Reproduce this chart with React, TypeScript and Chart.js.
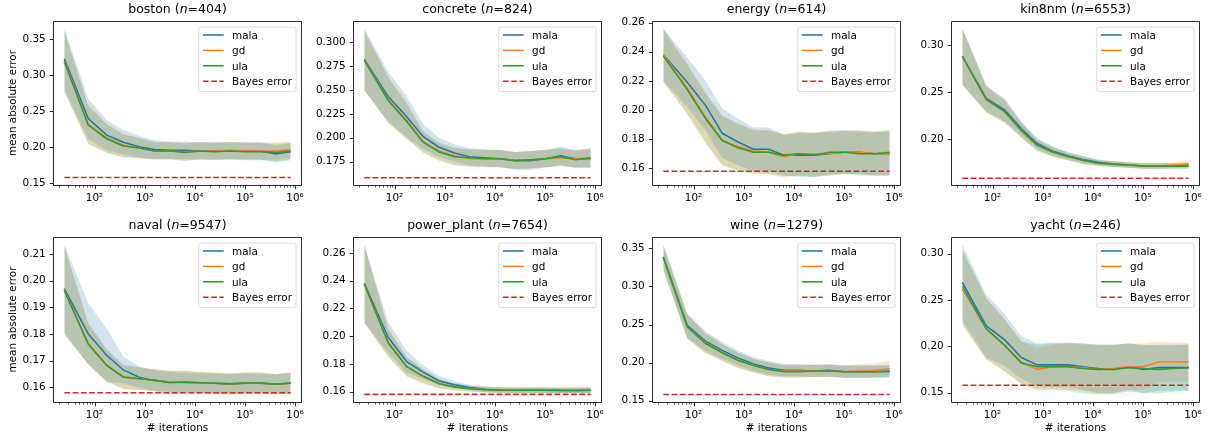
import React, { useEffect, useRef } from 'react';
import { Chart, registerables } from 'chart.js';

Chart.register(...registerables);

// ---------------- data ----------------
const iterations = [25, 75, 175, 375, 775, 1575, 3175, 6375, 12775, 25575, 51175, 102375, 204775, 409575, 819175];
const bayesError = 0.158;
const xTickValues = [1e2, 1e3, 1e4, 1e5, 1e6];
const xTickLabels = ['10²', '10³', '10⁴', '10⁵', '10⁶'];
const methodNames = ['mala', 'gd', 'ula'];
const bayesLabel = 'Bayes error';
const xAxisTitle = '# iterations';
const yAxisTitle = 'mean absolute error';

const bostonMala = [0.323, 0.240, 0.217, 0.207, 0.201, 0.197, 0.196, 0.196, 0.195, 0.195, 0.195, 0.195, 0.195, 0.191, 0.194];
const bostonGd = [0.320, 0.232, 0.213, 0.203, 0.199, 0.195, 0.195, 0.194, 0.195, 0.195, 0.196, 0.195, 0.195, 0.195, 0.197];
const bostonUla = [0.319, 0.231, 0.212, 0.202, 0.199, 0.195, 0.195, 0.193, 0.195, 0.194, 0.195, 0.194, 0.194, 0.193, 0.195];
const bostonMalaSd = [0.043, 0.028, 0.021, 0.017, 0.015, 0.013, 0.012, 0.012, 0.012, 0.012, 0.012, 0.012, 0.012, 0.012, 0.012];
const bostonGdSd = [0.042, 0.027, 0.020, 0.016, 0.014, 0.012, 0.012, 0.012, 0.012, 0.012, 0.012, 0.012, 0.012, 0.012, 0.011];
const bostonUlaSd = [0.042, 0.026, 0.020, 0.016, 0.014, 0.012, 0.012, 0.012, 0.012, 0.012, 0.012, 0.012, 0.012, 0.012, 0.011];
const bostonYRange = [0.1477, 0.3756];
const bostonYTicks = ['0.15', '0.20', '0.25', '0.30', '0.35'];

const concreteMala = [0.282, 0.243, 0.222, 0.201, 0.190, 0.184, 0.180, 0.179, 0.178, 0.176, 0.176, 0.178, 0.181, 0.178, 0.178];
const concreteGd = [0.281, 0.240, 0.218, 0.196, 0.186, 0.181, 0.178, 0.178, 0.178, 0.176, 0.177, 0.178, 0.179, 0.178, 0.179];
const concreteUla = [0.281, 0.239, 0.217, 0.195, 0.185, 0.180, 0.179, 0.178, 0.178, 0.176, 0.177, 0.178, 0.180, 0.177, 0.179];
const concreteMalaSd = [0.032, 0.026, 0.021, 0.013, 0.010, 0.009, 0.009, 0.009, 0.009, 0.009, 0.010, 0.009, 0.010, 0.009, 0.010];
const concreteGdSd = [0.031, 0.024, 0.019, 0.011, 0.009, 0.009, 0.009, 0.009, 0.009, 0.009, 0.009, 0.009, 0.009, 0.009, 0.010];
const concreteUlaSd = [0.031, 0.024, 0.018, 0.011, 0.009, 0.009, 0.009, 0.009, 0.009, 0.009, 0.009, 0.009, 0.009, 0.009, 0.010];
const concreteYRange = [0.1505, 0.3221];
const concreteYTicks = ['0.175', '0.200', '0.225', '0.250', '0.275', '0.300'];

const energyMala = [0.238, 0.219, 0.203, 0.184, 0.178, 0.173, 0.173, 0.169, 0.169, 0.169, 0.170, 0.171, 0.171, 0.170, 0.170];
const energyGd = [0.238, 0.215, 0.195, 0.179, 0.175, 0.172, 0.171, 0.168, 0.170, 0.170, 0.170, 0.171, 0.171, 0.170, 0.170];
const energyUla = [0.237, 0.214, 0.194, 0.179, 0.174, 0.171, 0.171, 0.169, 0.170, 0.169, 0.171, 0.171, 0.170, 0.170, 0.171];
const energyMalaSd = [0.018, 0.017, 0.017, 0.017, 0.016, 0.015, 0.015, 0.014, 0.015, 0.015, 0.015, 0.015, 0.015, 0.015, 0.015];
const energyGdSd = [0.018, 0.017, 0.017, 0.017, 0.016, 0.015, 0.015, 0.0145, 0.015, 0.015, 0.015, 0.015, 0.015, 0.015, 0.0155];
const energyUlaSd = [0.018, 0.017, 0.017, 0.017, 0.016, 0.015, 0.015, 0.0145, 0.015, 0.015, 0.015, 0.015, 0.015, 0.015, 0.0155];
const energyYRange = [0.1485, 0.2611];
const energyYTicks = ['0.16', '0.18', '0.20', '0.22', '0.24', '0.26'];

const kin8nmMala = [0.288, 0.243, 0.231, 0.211, 0.195, 0.187, 0.182, 0.178, 0.175, 0.173, 0.172, 0.171, 0.171, 0.171, 0.171];
const kin8nmGd = [0.288, 0.242, 0.229, 0.209, 0.193, 0.186, 0.181, 0.177, 0.174, 0.173, 0.172, 0.171, 0.171, 0.172, 0.173];
const kin8nmUla = [0.288, 0.242, 0.229, 0.209, 0.193, 0.186, 0.181, 0.177, 0.174, 0.173, 0.172, 0.171, 0.171, 0.171, 0.171];
const kin8nmMalaSd = [0.030, 0.014, 0.012, 0.008, 0.006, 0.005, 0.004, 0.004, 0.003, 0.003, 0.003, 0.003, 0.003, 0.003, 0.003];
const kin8nmGdSd = [0.030, 0.014, 0.012, 0.008, 0.006, 0.005, 0.004, 0.004, 0.003, 0.003, 0.003, 0.003, 0.003, 0.003, 0.003];
const kin8nmUlaSd = [0.030, 0.014, 0.012, 0.008, 0.006, 0.005, 0.004, 0.004, 0.003, 0.003, 0.003, 0.003, 0.003, 0.003, 0.003];
const kin8nmYRange = [0.1507, 0.3257];
const kin8nmYTicks = ['0.20', '0.25', '0.30'];

const navalMala = [0.1970, 0.1800, 0.1720, 0.1665, 0.1638, 0.1625, 0.1620, 0.1618, 0.1617, 0.1615, 0.1613, 0.1615, 0.1615, 0.1612, 0.1615];
const navalGd = [0.1965, 0.1765, 0.1683, 0.1640, 0.1633, 0.1626, 0.1620, 0.1619, 0.1617, 0.1615, 0.1613, 0.1615, 0.1615, 0.1612, 0.1615];
const navalUla = [0.1962, 0.1762, 0.1682, 0.1638, 0.1632, 0.1627, 0.1617, 0.1620, 0.1617, 0.1615, 0.1613, 0.1616, 0.1616, 0.1612, 0.1616];
const navalMalaSd = [0.0165, 0.0115, 0.0100, 0.0050, 0.0040, 0.0038, 0.0037, 0.0036, 0.0036, 0.0036, 0.0036, 0.0036, 0.0036, 0.0036, 0.0040];
const navalGdSd = [0.0165, 0.0078, 0.0060, 0.0045, 0.0042, 0.0042, 0.0044, 0.0042, 0.0040, 0.0040, 0.0040, 0.0040, 0.0040, 0.0038, 0.0040];
const navalUlaSd = [0.0165, 0.0076, 0.0060, 0.0045, 0.0042, 0.0042, 0.0044, 0.0042, 0.0040, 0.0040, 0.0040, 0.0040, 0.0040, 0.0038, 0.0040];
const navalYRange = [0.1545, 0.2163];
const navalYTicks = ['0.16', '0.17', '0.18', '0.19', '0.20', '0.21'];

const powerMala = [0.2380, 0.1990, 0.1815, 0.1740, 0.1677, 0.1650, 0.1630, 0.1617, 0.1612, 0.1610, 0.1610, 0.1610, 0.1608, 0.1608, 0.1610];
const powerGd = [0.2375, 0.1955, 0.1780, 0.1710, 0.1658, 0.1634, 0.1622, 0.1614, 0.1612, 0.1610, 0.1610, 0.1610, 0.1608, 0.1610, 0.1610];
const powerUla = [0.2375, 0.1950, 0.1780, 0.1710, 0.1657, 0.1634, 0.1621, 0.1614, 0.1612, 0.1610, 0.1612, 0.1610, 0.1610, 0.1608, 0.1610];
const powerMalaSd = [0.028, 0.011, 0.008, 0.005, 0.0035, 0.0025, 0.002, 0.002, 0.002, 0.002, 0.002, 0.002, 0.002, 0.002, 0.002];
const powerGdSd = [0.028, 0.010, 0.007, 0.005, 0.0035, 0.0025, 0.002, 0.002, 0.002, 0.002, 0.002, 0.002, 0.002, 0.002, 0.002];
const powerUlaSd = [0.028, 0.010, 0.007, 0.005, 0.0035, 0.0025, 0.002, 0.002, 0.002, 0.002, 0.002, 0.002, 0.002, 0.002, 0.002];
const powerYRange = [0.1525, 0.2714];
const powerYTicks = ['0.16', '0.18', '0.20', '0.22', '0.24', '0.26'];

const wineMala = [0.339, 0.249, 0.228, 0.216, 0.206, 0.198, 0.193, 0.190, 0.190, 0.189, 0.190, 0.188, 0.188, 0.188, 0.189];
const wineGd = [0.338, 0.247, 0.226, 0.213, 0.203, 0.196, 0.191, 0.189, 0.189, 0.189, 0.189, 0.188, 0.189, 0.190, 0.192];
const wineUla = [0.338, 0.247, 0.225, 0.213, 0.203, 0.196, 0.191, 0.188, 0.188, 0.189, 0.189, 0.188, 0.188, 0.188, 0.188];
const wineMalaSd = [0.016, 0.016, 0.013, 0.011, 0.010, 0.009, 0.009, 0.008, 0.008, 0.008, 0.008, 0.008, 0.008, 0.008, 0.008];
const wineGdSd = [0.016, 0.015, 0.013, 0.011, 0.010, 0.009, 0.009, 0.008, 0.008, 0.008, 0.008, 0.008, 0.009, 0.009, 0.010];
const wineUlaSd = [0.016, 0.016, 0.013, 0.011, 0.010, 0.009, 0.009, 0.008, 0.008, 0.008, 0.008, 0.008, 0.008, 0.008, 0.008];
const wineYRange = [0.1482, 0.365];
const wineYTicks = ['0.15', '0.20', '0.25', '0.30', '0.35'];

const yachtMala = [0.269, 0.222, 0.207, 0.188, 0.180, 0.180, 0.180, 0.178, 0.176, 0.175, 0.178, 0.175, 0.177, 0.177, 0.177];
const yachtGd = [0.262, 0.219, 0.201, 0.183, 0.175, 0.178, 0.178, 0.177, 0.175, 0.176, 0.178, 0.178, 0.183, 0.183, 0.183];
const yachtUla = [0.265, 0.219, 0.201, 0.182, 0.178, 0.178, 0.178, 0.176, 0.175, 0.175, 0.177, 0.176, 0.175, 0.176, 0.177];
const yachtMalaSd = [0.041, 0.034, 0.028, 0.023, 0.023, 0.024, 0.024, 0.025, 0.026, 0.026, 0.025, 0.026, 0.025, 0.025, 0.025];
const yachtGdSd = [0.040, 0.033, 0.028, 0.023, 0.023, 0.024, 0.025, 0.025, 0.026, 0.026, 0.025, 0.025, 0.022, 0.021, 0.021];
const yachtUlaSd = [0.040, 0.033, 0.028, 0.023, 0.024, 0.025, 0.026, 0.027, 0.027, 0.027, 0.026, 0.026, 0.026, 0.025, 0.025];
const yachtYRange = [0.1399, 0.3181];
const yachtYTicks = ['0.15', '0.20', '0.25', '0.30'];

const panels = [
  { name: 'boston', n: 404, means: [bostonMala, bostonGd, bostonUla], sds: [bostonMalaSd, bostonGdSd, bostonUlaSd], yRange: bostonYRange, yTicks: bostonYTicks },
  { name: 'concrete', n: 824, means: [concreteMala, concreteGd, concreteUla], sds: [concreteMalaSd, concreteGdSd, concreteUlaSd], yRange: concreteYRange, yTicks: concreteYTicks },
  { name: 'energy', n: 614, means: [energyMala, energyGd, energyUla], sds: [energyMalaSd, energyGdSd, energyUlaSd], yRange: energyYRange, yTicks: energyYTicks },
  { name: 'kin8nm', n: 6553, means: [kin8nmMala, kin8nmGd, kin8nmUla], sds: [kin8nmMalaSd, kin8nmGdSd, kin8nmUlaSd], yRange: kin8nmYRange, yTicks: kin8nmYTicks },
  { name: 'naval', n: 9547, means: [navalMala, navalGd, navalUla], sds: [navalMalaSd, navalGdSd, navalUlaSd], yRange: navalYRange, yTicks: navalYTicks },
  { name: 'power_plant', n: 7654, means: [powerMala, powerGd, powerUla], sds: [powerMalaSd, powerGdSd, powerUlaSd], yRange: powerYRange, yTicks: powerYTicks },
  { name: 'wine', n: 1279, means: [wineMala, wineGd, wineUla], sds: [wineMalaSd, wineGdSd, wineUlaSd], yRange: wineYRange, yTicks: wineYTicks },
  { name: 'yacht', n: 246, means: [yachtMala, yachtGd, yachtUla], sds: [yachtMalaSd, yachtGdSd, yachtUlaSd], yRange: yachtYRange, yTicks: yachtYTicks },
];

// ---------------- styles / layout ----------------
const FONT = '"DejaVu Sans", sans-serif';
const TICK_FONT = 10.4;
const TITLE_FONT = 12.5;
const COLORS = ['#1f77b4', '#ff7f0e', '#2ca02c'];
const BAND_COLORS = ['rgba(31,119,180,0.2)', 'rgba(255,127,14,0.2)', 'rgba(44,160,44,0.2)'];
const BAYES_COLOR = '#d62728';
const LINE_W = 1.56;
const DASH = [5.77, 2.5];
const MAJOR_TICK = 3.65;
const MINOR_TICK = 2.08;

const PLOT_LEFT = [53, 353, 652, 951];
const PLOT_TOP = [21, 237];
const PLOT_W = 249;
const PLOT_H = [164, 165];
const PAD_L = 53;
const PAD_T = 21;
const PAD_R = 5;
const PAD_B = 37;

Chart.defaults.font.family = FONT;

function logMargins(vals: number[]) {
  const a = Math.log10(vals[0]);
  const b = Math.log10(vals[vals.length - 1]);
  const m = (b - a) * 0.05;
  return [Math.pow(10, a - m), Math.pow(10, b + m)];
}

function roundRect(ctx: CanvasRenderingContext2D, x: number, y: number, w: number, h: number, r: number) {
  ctx.beginPath();
  ctx.moveTo(x + r, y);
  ctx.lineTo(x + w - r, y);
  ctx.arcTo(x + w, y, x + w, y + r, r);
  ctx.lineTo(x + w, y + h - r);
  ctx.arcTo(x + w, y + h, x + w - r, y + h, r);
  ctx.lineTo(x + r, y + h);
  ctx.arcTo(x, y + h, x, y + h - r, r);
  ctx.lineTo(x, y + r);
  ctx.arcTo(x, y, x + r, y, r);
  ctx.closePath();
}

function makeDecor(panel: any) {
  return {
    id: 'mplDecor',
    afterDatasetsDraw(chart: any) {
      const { ctx, chartArea: a, scales } = chart;
      const xs = scales.x;
      const ys = scales.y;
      const L = a.left + 0.5, R = a.right - 0.5, T = a.top + 0.5, B = a.bottom + 0.5;
      ctx.save();
      ctx.strokeStyle = '#000';
      ctx.setLineDash([]);
      // x ticks (major + minor)
      const lo = Math.floor(Math.log10(xs.min));
      const hi = Math.ceil(Math.log10(xs.max));
      for (let e = lo; e <= hi; e++) {
        for (let k = 1; k <= 9; k++) {
          const v = k * Math.pow(10, e);
          if (v < xs.min || v > xs.max) continue;
          const px = Math.round(xs.getPixelForValue(v)) + 0.5;
          const major = k === 1;
          ctx.lineWidth = major ? 0.83 : 0.62;
          ctx.beginPath();
          ctx.moveTo(px, B);
          ctx.lineTo(px, B + (major ? MAJOR_TICK : MINOR_TICK));
          ctx.stroke();
        }
      }
      // y ticks
      ctx.lineWidth = 0.83;
      panel.yTicks.forEach((t: string) => {
        const py = Math.round(ys.getPixelForValue(parseFloat(t))) + 0.5;
        ctx.beginPath();
        ctx.moveTo(L - MAJOR_TICK, py);
        ctx.lineTo(L, py);
        ctx.stroke();
      });
      // frame
      ctx.lineWidth = 0.83;
      ctx.beginPath();
      ctx.moveTo(L, T);
      ctx.lineTo(R, T);
      ctx.lineTo(R, B);
      ctx.lineTo(L, B);
      ctx.closePath();
      ctx.stroke();

      // legend
      const f = TICK_FONT;
      ctx.font = `${f}px ${FONT}`;
      const labels = [...methodNames, bayesLabel];
      const tw = Math.max(...labels.map((l) => ctx.measureText(l).width));
      const pad = 0.4 * f, hl = 2 * f, htp = 0.8 * f;
      const bw = pad * 2 + hl + htp + tw;
      const bh = 64.5;
      const bx = R - 5.4 - bw;
      const by = T + 5.6;
      roundRect(ctx, bx, by, bw, bh, 2.1);
      ctx.fillStyle = 'rgba(255,255,255,0.8)';
      ctx.fill();
      ctx.strokeStyle = 'rgba(204,204,204,0.8)';
      ctx.lineWidth = 0.83;
      ctx.stroke();
      labels.forEach((lab, i) => {
        const ly = T + 13.5 + i * 15.4;
        ctx.beginPath();
        ctx.strokeStyle = i < 3 ? COLORS[i] : BAYES_COLOR;
        ctx.lineWidth = LINE_W;
        ctx.setLineDash(i < 3 ? [] : DASH);
        ctx.moveTo(bx + pad, ly);
        ctx.lineTo(bx + pad + hl, ly);
        ctx.stroke();
        ctx.setLineDash([]);
        ctx.fillStyle = '#000';
        ctx.textAlign = 'left';
        ctx.textBaseline = 'alphabetic';
        ctx.fillText(lab, bx + pad + hl + htp, ly + 3.7);
      });
      ctx.restore();
    },
    afterDraw(chart: any) {
      const { ctx, chartArea: a } = chart;
      ctx.save();
      const normal = `${TITLE_FONT}px ${FONT}`;
      const italic = `italic ${TITLE_FONT}px ${FONT}`;
      const parts = [
        { t: panel.name + ' (', f: normal },
        { t: 'n', f: italic },
        { t: '=' + panel.n + ')', f: normal },
      ];
      let total = 0;
      parts.forEach((p) => { ctx.font = p.f; total += ctx.measureText(p.t).width; });
      let x = (a.left + a.right) / 2 - total / 2;
      const y = a.top - 8.3;
      ctx.fillStyle = '#000';
      ctx.textAlign = 'left';
      ctx.textBaseline = 'alphabetic';
      parts.forEach((p) => {
        ctx.font = p.f;
        ctx.fillText(p.t, x, y);
        x += ctx.measureText(p.t).width;
      });
      ctx.restore();
    },
  };
}

function Panel({ index }: { index: number }) {
  const ref = useRef<HTMLCanvasElement | null>(null);
  const col = index % 4;
  const row = Math.floor(index / 4);
  const panel = panels[index];
  const width = PAD_L + PLOT_W + PAD_R;
  const height = PAD_T + PLOT_H[row] + PAD_B;
  const left = PLOT_LEFT[col] - PAD_L;
  const top = PLOT_TOP[row] - PAD_T;

  useEffect(() => {
    if (!ref.current) return;
    const [xMin, xMax] = logMargins(iterations);
    const datasets: any[] = [];
    // bands
    panel.means.forEach((m: number[], i: number) => {
      const sd = panel.sds[i];
      datasets.push({
        label: methodNames[i] + ' lower',
        data: iterations.map((x, j) => ({ x, y: m[j] - sd[j] })),
        borderColor: 'rgba(0,0,0,0)',
        borderWidth: 0,
        pointRadius: 0,
        fill: false,
        order: 20 + i * 2,
      });
      datasets.push({
        label: methodNames[i] + ' band',
        data: iterations.map((x, j) => ({ x, y: m[j] + sd[j] })),
        borderColor: 'rgba(0,0,0,0)',
        borderWidth: 0,
        pointRadius: 0,
        backgroundColor: BAND_COLORS[i],
        fill: '-1',
        order: 20 + i * 2 + 1,
      });
    });
    // mean lines
    panel.means.forEach((m: number[], i: number) => {
      datasets.push({
        label: methodNames[i],
        data: iterations.map((x, j) => ({ x, y: m[j] })),
        borderColor: COLORS[i],
        borderWidth: LINE_W,
        pointRadius: 0,
        fill: false,
        tension: 0,
        order: 3 - i,
      });
    });
    datasets.push({
      label: bayesLabel,
      data: [
        { x: iterations[0], y: bayesError },
        { x: iterations[iterations.length - 1], y: bayesError },
      ],
      borderColor: BAYES_COLOR,
      borderWidth: LINE_W,
      borderDash: DASH,
      pointRadius: 0,
      fill: false,
      order: 0,
    });

    const tickFont = { family: FONT, size: TICK_FONT };
    const chart = new Chart(ref.current, {
      type: 'line',
      data: { datasets },
      options: {
        animation: false,
        responsive: false,
        devicePixelRatio: 1,
        events: [],
        layout: { padding: { top: PAD_T, right: PAD_R, left: 0, bottom: 0 } },
        plugins: {
          legend: { display: false },
          title: { display: false },
          tooltip: { enabled: false },
        },
        scales: {
          x: {
            type: 'logarithmic',
            min: xMin,
            max: xMax,
            bounds: 'data',
            grid: { display: false, drawTicks: true, tickLength: MAJOR_TICK },
            border: { display: false },
            ticks: {
              autoSkip: false,
              maxRotation: 0,
              minRotation: 0,
              padding: 3.0,
              color: '#000',
              font: tickFont,
              callback: (_v: any, i: number) => xTickLabels[i],
            },
            afterBuildTicks: (s: any) => {
              s.ticks = xTickValues.map((v) => ({ value: v }));
            },
            afterFit: (s: any) => {
              s.height = PAD_B;
              s.paddingLeft = 0;
              s.paddingRight = 0;
            },
            title: {
              display: row === 1,
              text: xAxisTitle,
              color: '#000',
              font: tickFont,
              padding: { top: 0, bottom: 4.5 },
            },
          },
          y: {
            type: 'linear',
            min: panel.yRange[0],
            max: panel.yRange[1],
            bounds: 'data',
            grid: { display: false, drawTicks: true, tickLength: MAJOR_TICK },
            border: { display: false },
            ticks: {
              autoSkip: false,
              padding: 3.65,
              color: '#000',
              font: tickFont,
              callback: (_v: any, i: number) => panel.yTicks[i],
            },
            afterBuildTicks: (s: any) => {
              s.ticks = panel.yTicks.map((t: string) => ({ value: parseFloat(t) }));
            },
            afterFit: (s: any) => {
              s.width = PAD_L;
              s.paddingTop = 0;
              s.paddingBottom = 0;
            },
            title: {
              display: col === 0,
              text: yAxisTitle,
              color: '#000',
              font: tickFont,
              padding: { top: 6.8, bottom: 0 },
            },
          },
        },
      } as any,
      plugins: [makeDecor(panel)],
    });
    return () => chart.destroy();
  }, [index]);

  return (
    <canvas
      ref={ref}
      width={width}
      height={height}
      style={{ position: 'absolute', left, top, width, height }}
    />
  );
}

export default function App() {
  return (
    <div style={{ position: 'fixed', left: 0, top: 0, width: 1207, height: 439, background: '#fff', overflow: 'hidden' }}>
      {panels.map((_, i) => (
        <Panel key={i} index={i} />
      ))}
    </div>
  );
}
